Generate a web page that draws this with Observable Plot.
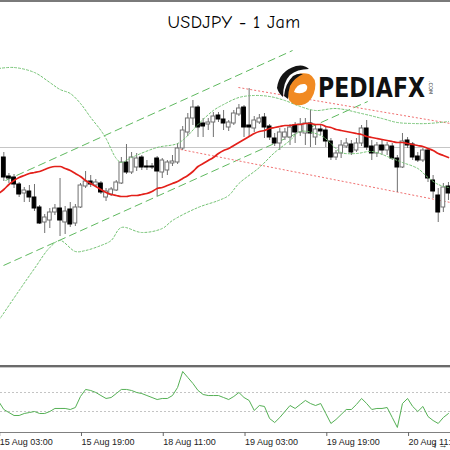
<!DOCTYPE html>
<html><head><meta charset="utf-8">
<script src="https://cdn.jsdelivr.net/npm/d3@7"></script>
<script src="https://cdn.jsdelivr.net/npm/@observablehq/plot@0.6"></script>
<style>
html,body{margin:0;padding:0;background:#fff;}
#wrap{position:relative;width:450px;height:450px;overflow:hidden;background:#fff;}
#main{position:absolute;left:0;top:0;}
#osc{position:absolute;left:0;top:367px;}
#topline{position:absolute;left:0;top:0;width:450px;height:2px;background:#7a7a7a;}
#sep{position:absolute;left:0;top:365px;width:450px;height:2px;background:#6a6a6a;}
#sep2{position:absolute;left:0;top:367px;width:450px;height:1px;background:#c8c8c8;}
#title{position:absolute;left:0;top:12px;width:468px;text-align:center;font-family:"Comic Sans MS","Comic Neue","DejaVu Sans",sans-serif;font-size:18px;color:#000;letter-spacing:0.4px;}
#logo{position:absolute;left:0;top:0;pointer-events:none;}
</style></head>
<body><div id="wrap">
<div id="main"></div>
<div id="osc"></div>
<div id="topline"></div>
<div id="sep"></div>
<div id="sep2"></div>
<div id="title">USDJPY - 1 Jam</div>
<svg id="logo" width="450" height="450" xmlns="http://www.w3.org/2000/svg">
  <path d="M291,79 Q299,71 309,74 Q317,78 315,89 Q313,100 305,104 Q295,108 289,100 Q285,91 291,79 Z" fill="#f18a22"/>
  <path d="M294,92 Q297,83 305,84 Q309,86 306,91 Q301,95 294,92 Z" fill="#fff"/>
  <path d="M277,88 Q279,71 296,66 Q304,64 309,69 Q297,69 290,75 Q283,82 283,97 Q279,94 277,88 Z" fill="#141414"/>
  <path d="M284,96 Q285,84 293,76 Q298,73 303,74 Q294,78 290,86 Q288,92 288,99 Z" fill="#141414"/>
  <text x="318" y="96.5" font-family="DejaVu Sans, sans-serif" font-weight="bold" font-size="27" textLength="107" lengthAdjust="spacingAndGlyphs" fill="#111">PEDIAFX</text>
  <text transform="translate(429,81) rotate(90)" font-family="DejaVu Sans, sans-serif" font-size="5" fill="#333">.COM</text>
</svg>
</div>
<script>
// ---------- data ----------
const opens = [102.93,102.74,102.73,102.66,102.57,102.59,102.53,102.43,102.28,102.30,
102.38,102.42,102.28,102.41,102.27,102.43,102.64,102.69,102.65,102.67,
102.53,102.56,102.60,102.67,102.88,102.78,102.83,102.93,102.84,102.84,
102.92,102.78,102.80,102.87,102.88,103.02,103.18,103.32,103.43,103.27,
103.26,103.28,103.35,103.31,103.23,103.27,103.36,103.43,103.25,103.22,
103.28,103.33,103.24,103.12,103.07,103.13,103.13,103.25,103.18,103.17,
103.27,103.13,103.21,103.20,103.09,102.93,102.97,103.04,103.06,103.00,
103.07,103.22,103.04,102.97,103.05,103.00,103.04,102.92,102.83,103.10,
103.06,102.94,102.90,103.00,102.70,102.55,102.43,102.64];
const highs = [102.98,102.77,102.76,102.68,102.63,102.65,102.66,102.45,102.36,102.42,
102.46,102.72,102.44,102.48,102.46,102.67,102.79,102.75,102.71,102.69,
102.62,102.63,102.70,102.93,103.06,102.98,102.97,102.95,102.90,102.87,
102.94,102.92,102.90,102.95,103.07,103.24,103.37,103.50,103.45,103.32,
103.32,103.38,103.38,103.40,103.30,103.40,103.46,103.45,103.62,103.34,
103.36,103.37,103.26,103.17,103.22,103.22,103.26,103.28,103.32,103.32,
103.40,103.25,103.25,103.24,103.12,103.00,103.10,103.12,103.10,103.12,
103.25,103.30,103.10,103.08,103.10,103.08,103.07,102.95,103.17,103.13,
103.08,102.98,103.02,103.02,102.75,102.62,102.67,102.68];
const lows = [102.69,102.67,102.62,102.53,102.48,102.48,102.39,102.26,102.17,102.22,
102.35,102.14,102.16,102.23,102.24,102.42,102.62,102.63,102.63,102.56,
102.49,102.54,102.59,102.66,102.76,102.76,102.79,102.80,102.80,102.81,
102.54,102.72,102.75,102.84,102.86,103.00,103.14,103.25,103.13,103.13,
103.20,103.13,103.28,103.20,103.19,103.25,103.34,103.13,103.13,103.18,
103.26,103.12,103.10,103.04,103.00,103.10,103.05,103.07,103.14,103.05,
103.03,103.05,103.15,103.03,102.90,102.90,102.92,103.02,102.95,102.98,
103.04,103.00,102.90,102.93,102.95,102.95,102.90,102.58,102.82,103.02,
102.90,102.88,102.88,102.68,102.52,102.28,102.38,102.50];
const closes = [102.73,102.72,102.66,102.56,102.60,102.53,102.42,102.27,102.33,102.38,
102.42,102.30,102.39,102.26,102.43,102.65,102.69,102.66,102.68,102.58,
102.59,102.61,102.68,102.88,102.78,102.93,102.92,102.83,102.83,102.83,
102.79,102.90,102.88,102.89,103.02,103.20,103.32,103.43,103.23,103.24,
103.28,103.34,103.31,103.27,103.28,103.37,103.42,103.23,103.23,103.30,
103.32,103.23,103.13,103.07,103.18,103.18,103.23,103.18,103.26,103.27,
103.17,103.21,103.19,103.09,102.93,102.97,103.05,103.07,102.98,103.07,
103.22,103.03,102.97,103.05,103.00,103.05,102.92,102.83,103.09,103.05,
102.93,102.90,103.00,102.72,102.59,102.38,102.63,102.57];

// moving average, from candle index -1 to 87
const maValues = [102.57,
102.61,102.66,102.70,102.73,102.75,102.77,102.78,102.79,102.81,102.83,
102.84,102.84,102.82,102.80,102.77,102.74,102.70,102.67,102.64,102.61,
102.58,102.56,102.55,102.54,102.54,102.55,102.55,102.56,102.57,102.59,
102.62,102.63,102.65,102.67,102.69,102.72,102.75,102.79,102.84,102.87,
102.90,102.93,102.97,103.00,103.02,103.05,103.08,103.11,103.14,103.17,
103.19,103.20,103.22,103.23,103.24,103.25,103.25,103.26,103.26,103.27,
103.27,103.26,103.26,103.24,103.23,103.21,103.20,103.19,103.18,103.17,
103.16,103.14,103.13,103.12,103.11,103.10,103.09,103.08,103.08,103.07,
103.06,103.05,103.04,103.02,103.00,102.97,102.95,102.93];

// Bollinger bands read at selected candles
const upperIdx = [-1,2,6,9,11,13,15,17,19,20,22,23,25,30,34,36,38,41,43,46,49,52,55,58,61,65,70,74,77,80,83,87];
const upperVal = [103.82,103.83,103.78,103.68,103.61,103.57,103.47,103.33,103.20,103.12,
102.92,102.88,102.93,103.03,103.07,103.15,103.26,103.40,103.46,103.53,
103.55,103.54,103.50,103.44,103.40,103.42,103.37,103.32,103.28,103.27,103.27,103.29];
const lowerIdx = [-1,3,6,9,11,14,16,19,21,23,27,31,33,38,42,44,46,50,53,56,58,62,64,66,69,72,76,78,81,83,85,87];
const lowerVal = [101.30,101.60,101.82,102.03,102.10,101.99,102.00,102.05,102.10,102.23,
102.18,102.22,102.30,102.43,102.50,102.55,102.67,102.83,102.98,103.10,
103.19,103.15,103.07,102.98,102.97,102.99,102.92,102.88,102.82,102.73,102.66,102.63];

// trend channels: [index1, price1, index2, price2]
const greenChannel = [[0.33,102.70,56.5,104.00],[-0.06,101.85,71.2,103.49]];
const redChannel = [[45.9,103.63,87.4,103.27],[34.6,103.01,87.4,102.48]];
const priceLevel = [103.03];

// oscillator, from candle index -1 to 87
const oscValues = [50.5,
42.1,38.9,35.8,35.8,37.9,38.9,40.0,37.9,37.9,40.0,
43.2,43.2,43.2,42.1,44.2,55.8,63.2,62.1,60.0,56.8,
53.7,54.7,58.9,63.2,63.2,62.1,60.0,58.9,56.8,54.7,
52.6,53.7,53.7,56.8,65.3,82.1,75.8,69.5,62.1,57.9,
56.8,56.8,56.8,54.7,52.6,55.8,60.0,54.7,51.6,41.1,
46.3,45.3,32.6,28.4,33.7,40.0,46.3,43.2,47.4,51.6,
48.4,46.3,48.4,37.9,27.4,31.6,36.8,42.1,42.1,47.4,
53.7,48.4,42.1,43.2,43.2,44.2,33.7,23.2,48.4,53.7,
45.3,40.0,45.3,34.7,30.5,27.4,33.7,37.9];
const oscLevels = [60, 40];

const tickIdx = [-1,15,31,47,63,79];
const tickLabels = ["15 Aug 03:00","15 Aug 19:00","18 Aug 11:00","19 Aug 03:00","19 Aug 19:00","20 Aug 11:00"];

// ---------- tables ----------
const candles = opens.map((o,i)=>({i, o, h:highs[i], l:lows[i], c:closes[i]}));
const maRows = maValues.map((v,k)=>({i:k-1, v}));
const upRows = upperIdx.map((i,k)=>({i, v:upperVal[k]}));
const loRows = lowerIdx.map((i,k)=>({i, v:lowerVal[k]}));
const oscRows = oscValues.map((v,k)=>({i:k-1, v}));
const labelMap = new Map(tickIdx.map((d,k)=>[d,tickLabels[k]]));
const xDomain = [-0.65, 87.4];

const main = Plot.plot({
  width:450, height:366,
  marginTop:0, marginBottom:0, marginLeft:0, marginRight:0,
  x:{type:"linear", domain:xDomain, axis:null},
  y:{type:"linear", domain:[100.84,104.50], axis:null},
  marks:[
    Plot.ruleY(priceLevel, {stroke:"#c6c6c6", strokeWidth:1}),
    Plot.link(greenChannel, {x1:d=>d[0], y1:d=>d[1], x2:d=>d[2], y2:d=>d[3], stroke:"#5fb95f", strokeWidth:1, strokeDasharray:"8,4"}),
    Plot.link(redChannel, {x1:d=>d[0], y1:d=>d[1], x2:d=>d[2], y2:d=>d[3], stroke:"#f07070", strokeWidth:1, strokeDasharray:"2,2"}),
    Plot.ruleX(candles, {x:"i", y1:"l", y2:"h", stroke:"#707070", strokeWidth:1}),
    Plot.rect(candles, {x1:d=>d.i-0.37, x2:d=>d.i+0.37, y1:"o", y2:"c",
      fill:d=>d.c<d.o?"#000":"#fff", stroke:d=>d.c<d.o?"#000":"#707070", strokeWidth:1}),
    Plot.line(upRows, {x:"i", y:"v", stroke:"#74c374", strokeWidth:1, strokeDasharray:"2,2", curve:"catmull-rom"}),
    Plot.line(loRows, {x:"i", y:"v", stroke:"#74c374", strokeWidth:1, strokeDasharray:"2,2", curve:"catmull-rom"}),
    Plot.line(maRows, {x:"i", y:"v", stroke:"#e3201a", strokeWidth:1.7, curve:"monotone-x"})
  ]
});
document.getElementById("main").appendChild(main);

const osc = Plot.plot({
  width:450, height:83,
  marginTop:0, marginBottom:18, marginLeft:0, marginRight:0,
  style:{fontFamily:"'Liberation Sans', Arial, sans-serif", fontSize:"9px", background:"transparent"},
  x:{type:"linear", domain:xDomain, axis:null},
  y:{type:"linear", domain:[17.9,86.3], axis:null},
  marks:[
    Plot.ruleY(oscLevels, {stroke:"#c4c4c4", strokeDasharray:"2,2"}),
    Plot.line(oscRows, {x:"i", y:"v", stroke:"#55b055", strokeWidth:1}),
    Plot.ruleY([17.9], {stroke:"#808080", strokeWidth:1.2}),
    Plot.axisX(tickIdx, {anchor:"bottom", tickSize:4, tickPadding:2, tickFormat:d=>labelMap.get(d),
      textAnchor:"start", dx:1, fontSize:9, stroke:"#666", fill:"#222"})
  ]
});
document.getElementById("osc").appendChild(osc);
</script>
</body></html>
